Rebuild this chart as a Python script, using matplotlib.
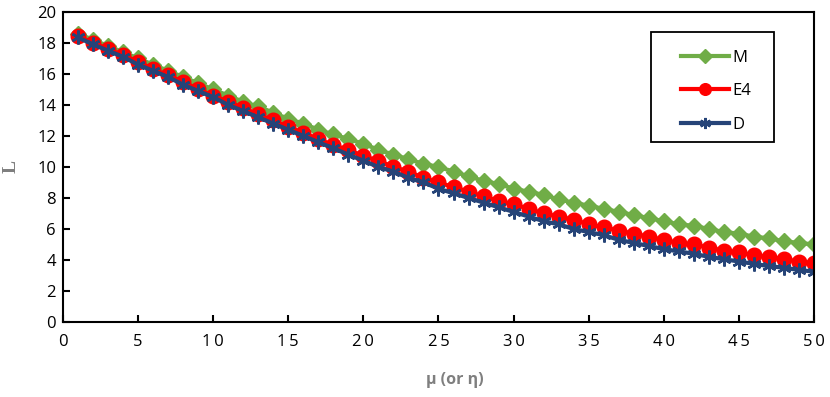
import numpy as np
import matplotlib.pyplot as plt
from matplotlib.patches import Rectangle

# valores (x = 1..50)
mu = np.arange(1, 51)

valores_M = [18.6, 18.2, 17.8, 17.4, 17.0, 16.6, 16.2, 15.8, 15.4, 15.0,
             14.6, 14.2, 13.9, 13.5, 13.1, 12.8, 12.4, 12.1, 11.8, 11.5,
             11.1, 10.8, 10.5, 10.2, 10.0, 9.7, 9.4, 9.1, 8.9, 8.6,
             8.4, 8.2, 7.9, 7.7, 7.5, 7.3, 7.1, 6.9, 6.7, 6.5,
             6.3, 6.2, 6.0, 5.8, 5.7, 5.5, 5.4, 5.2, 5.1, 5.0]

valores_E4 = [18.45, 18.0, 17.6, 17.2, 16.8, 16.3, 15.9, 15.5, 15.0, 14.6,
              14.2, 13.8, 13.4, 13.0, 12.6, 12.2, 11.8, 11.4, 11.1, 10.7,
              10.4, 10.0, 9.7, 9.3, 9.0, 8.7, 8.4, 8.1, 7.8, 7.6,
              7.3, 7.0, 6.8, 6.6, 6.3, 6.1, 5.9, 5.7, 5.5, 5.3,
              5.1, 5.0, 4.8, 4.6, 4.5, 4.3, 4.2, 4.05, 3.9, 3.8]

valores_D = [18.35, 17.9, 17.5, 17.1, 16.6, 16.2, 15.8, 15.3, 14.9, 14.5,
             14.0, 13.6, 13.2, 12.8, 12.4, 12.0, 11.6, 11.2, 10.8, 10.4,
             10.0, 9.7, 9.3, 9.0, 8.6, 8.3, 8.0, 7.7, 7.4, 7.1,
             6.8, 6.5, 6.3, 6.0, 5.8, 5.6, 5.3, 5.1, 4.9, 4.7,
             4.55, 4.4, 4.2, 4.05, 3.9, 3.75, 3.6, 3.5, 3.35, 3.25]

xticks = [0, 5, 10, 15, 20, 25, 30, 35, 40, 45, 50]
yticks = [0, 2, 4, 6, 8, 10, 12, 14, 16, 18, 20]

plt.rcParams['font.family'] = ['Open Sans', 'DejaVu Sans']

fig = plt.figure(figsize=(8.3, 3.97), dpi=100)
ax = fig.add_axes([0.0759, 0.189, 0.9048, 0.781])

ax.plot(mu, valores_M, color='#70AD47', lw=3, marker='D', ms=8.5, label='M')
ax.plot(mu, valores_E4, color='#FF0000', lw=3, marker='o', ms=10.5, label='E4')
ax.plot(mu, valores_D, color='#264478', lw=3, marker=(6, 2, 0), ms=10,
        mew=1.8, label='D')

ax.set_xlim(0, 50)
ax.set_ylim(0, 20)
ax.set_xticks(xticks)
ax.set_yticks(yticks)
ax.set_xticklabels(['\u2009'.join(str(t)) for t in xticks], fontsize=12)
ax.set_yticklabels([str(t) for t in yticks], fontsize=12)
ax.tick_params(direction='in', length=5, width=1.5, pad=5)
ax.tick_params(axis='x', pad=9)
for s in ax.spines.values():
    s.set_linewidth(1.5)

ax.set_xlabel('μ (or η)', fontsize=11.5, fontweight='bold', color='#7F7F7F')
ax.xaxis.set_label_coords(0.522, -0.16)
ax.set_ylabel('L', fontsize=14, family='Liberation Serif', fontweight='bold',
              color='#7F7F7F')
ax.yaxis.set_label_coords(-0.058, 0.5)

# leyenda sin marco + recuadro aparte
leg = ax.legend(loc='upper left', bbox_to_anchor=(0.812, 0.905), fontsize=12,
                frameon=False, handlelength=2.9, labelspacing=1.05,
                borderpad=0, handletextpad=0.15, markerscale=0.8)
ax.add_patch(Rectangle((0.783, 0.581), 0.164, 0.355, transform=ax.transAxes,
                       fill=False, edgecolor='black', lw=1.3, zorder=5))

fig.savefig('out.png', dpi=100)
